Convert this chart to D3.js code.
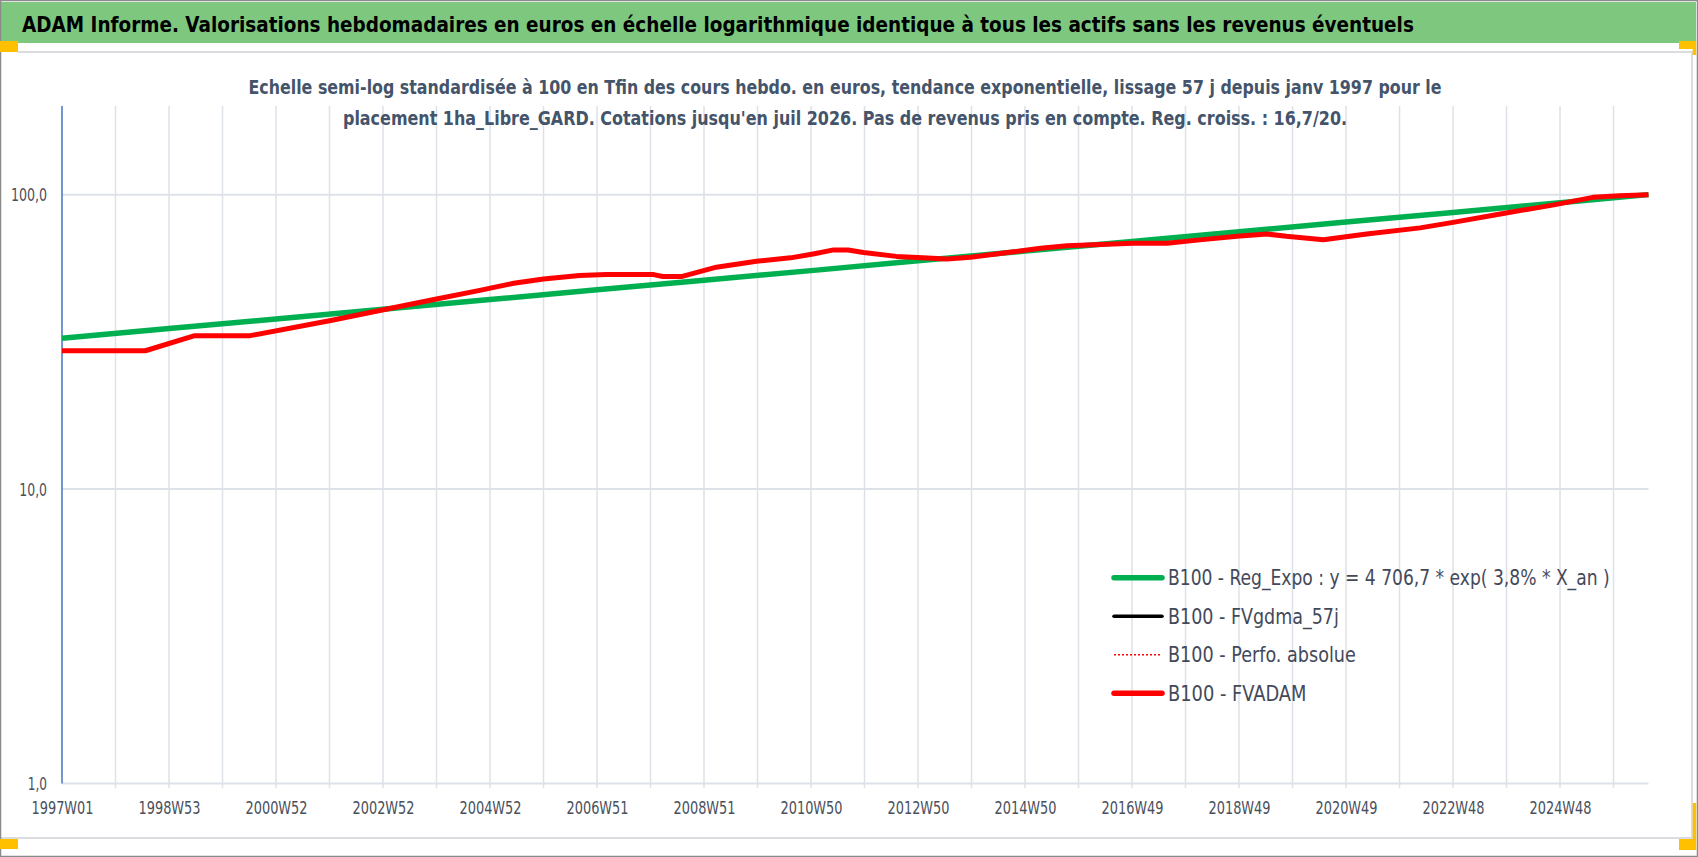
<!DOCTYPE html>
<html>
<head>
<meta charset="utf-8">
<script src="https://cdn.jsdelivr.net/npm/d3@7"></script>
<style>
  html,body{margin:0;padding:0;background:#fff;}
  svg{display:block;}
</style>
</head>
<body>
<svg width="1698" height="857"></svg>
<script>
// données (index de semaine depuis 1997W01)
var weekLabels = ["1997W01","1998W53","2000W52","2002W52","2004W52","2006W51","2008W51","2010W50","2012W50","2014W50","2016W49","2018W49","2020W49","2022W48","2024W48"];
var labelWeeks = [0,104,208,312,416,520,624,728,832,936,1040,1144,1248,1352,1456];
var lastWeek = 1542;
var yTicks = [1,10,100];

// B100 - Reg_Expo
var regWeeks = [0,104,208,312,416,520,624,728,832,936,1040,1144,1248,1352,1456,1542];
var regValues = [32.5,35.1,37.8,40.8,44.0,47.5,51.2,55.2,59.6,64.3,69.3,74.8,80.7,87.0,93.9,100];

// B100 - FVADAM
var adamWeeks = [0,81,129,183,260,316,364,406,439,468,503,529,575,584,602,636,675,708,730,750,764,779,811,860,883,921,951,977,1041,1074,1106,1142,1171,1190,1226,1268,1320,1352,1398,1450,1488,1514,1542];
var adamValues = [29.5,29.5,33.2,33.2,37.3,40.9,44.2,47.3,50.0,51.7,53.1,53.5,53.5,52.7,52.7,56.7,59.4,61.0,62.9,64.9,64.9,63.6,61.7,60.5,61.3,63.7,65.7,67.1,68.4,68.4,70.2,72.2,73.5,72.2,70.3,73.5,77.1,80.5,86.0,92.3,97.9,99.2,100];

var legendNames = ["B100 - Reg_Expo : y = 4 706,7 * exp( 3,8% *  X_an )","B100 - FVgdma_57j","B100 - Perfo. absolue","B100 - FVADAM"];

var FONT = "'Liberation Sans Narrow','Arial Narrow','DejaVu Sans Condensed','Noto Sans',sans-serif";

// resserre un texte horizontalement pour qu'il fasse la largeur voulue (police type Calibri absente)
function squeeze(sel, target, tx, ty){
    sel.each(function(d,i){
        var n = this.getComputedTextLength();
        var w = typeof target==="function" ? target(d,i) : target;
        var s = n>0 ? w/n : 1;
        d3.select(this).attr("x",0).attr("y",0)
            .attr("transform","translate("+tx+","+ty+") scale("+s+",1)");
    });
}

var svg = d3.select("svg");
var W = +svg.attr("width"), H = +svg.attr("height");
var marge = {top:106,bottom:857-783.5,left:62,right:1698-1648.5};

// fond + cadre
svg.append("rect").attr("width",W).attr("height",H).attr("fill","#fff");
svg.append("rect").attr("x",1).attr("y",2).attr("width",1695).attr("height",41).attr("fill","#7DC87E");
svg.append("path")//cadre intérieur gris clair
    .attr("d","M18,52H1692V838H1")
    .attr("fill","none").attr("stroke","#DADCE0").attr("stroke-width",2);
svg.append("rect").attr("x",0.5).attr("y",0.5).attr("width",W-1).attr("height",H-1)
    .attr("fill","none").attr("stroke","#8A8A8A").attr("stroke-width",1.5);

// poignées orange aux coins
var orange = "#FFC000";
[[0,41,18,11],[1679,41,17,8],[1692.7,41,3.5,14],[0,839,18,10],[1692.7,803,3.5,47],[1679,839,17,11]].forEach(function(r){
    svg.append("rect").attr("x",r[0]).attr("y",r[1]).attr("width",r[2]).attr("height",r[3]).attr("fill",orange);
});

// titre
svg.append("text")
    .style("font-family",FONT).style("font-weight","bold").style("font-size","22px")
    .attr("fill","#000")
    .text("ADAM Informe. Valorisations hebdomadaires en euros en échelle logarithmique identique à tous les actifs sans les revenus éventuels")
    .call(squeeze,1392,22,31.7);

var subLines = [
    {t:"Echelle semi-log standardisée à 100 en Tfin des cours hebdo. en euros, tendance exponentielle, lissage 57 j depuis janv 1997 pour le", y:94.3, w:1194},
    {t:"placement 1ha_Libre_GARD. Cotations jusqu'en juil 2026. Pas de revenus pris en compte. Reg. croiss. : 16,7/20.", y:125, w:1005}
];

var width = W-marge.left-marge.right;
var height = H-marge.top-marge.bottom;
var g = svg.append("g").attr("transform","translate("+marge.left+","+marge.top+")");

var xScale = d3.scaleLinear().domain([0,lastWeek]).range([0,width]);
var yScale = d3.scaleLog().domain([1,200]).range([height,0]);

// grille verticale toutes les 52 semaines
var gridWeeks = d3.range(52,lastWeek,52);
g.append("g")
    .selectAll("line").data(gridWeeks).enter().append("line")
    .attr("x1",d=>xScale(d)).attr("x2",d=>xScale(d))
    .attr("y1",0).attr("y2",height+4.5)
    .attr("stroke","#DDE1E8").attr("stroke-width",1.5);
// grille horizontale
g.append("g")
    .selectAll("line").data(yTicks).enter().append("line")
    .attr("x1",0).attr("x2",width)
    .attr("y1",d=>yScale(d)).attr("y2",d=>yScale(d))
    .attr("stroke","#DDE1E8").attr("stroke-width",2);

// sous-titre (par-dessus la grille)
svg.selectAll(".sub").data(subLines).enter().append("text")
    .attr("class","sub")
    .attr("text-anchor","middle")
    .style("font-family",FONT).style("font-weight","bold").style("font-size","19.5px")
    .attr("fill","#44546A")
    .text(d=>d.t)
    .each(function(d){ d3.select(this).call(squeeze,d.w,845,d.y); });

// axe x
var xAxis = d3.axisBottom(xScale)
    .tickValues(labelWeeks)
    .tickFormat((d,i)=>weekLabels[i])
    .tickSize(0);
var xt = g.append("g")
    .attr("transform","translate(0,"+height+")")
    .call(xAxis)
    .call(a=>a.select(".domain").remove());
xt.selectAll(".tick text")
    .attr("dy","0.71em")
    .style("font-family",FONT).style("font-size","18px")
    .attr("fill","#4A4F5C")
    .call(squeeze,62,0,17.5);

// axe y
var yLabel = d=>d3.format(".1f")(d).replace(".",",");
var yAxis = d3.axisLeft(yScale)
    .tickValues(yTicks)
    .tickFormat(yLabel)
    .tickSize(0);
var yt = g.append("g")
    .call(yAxis)
    .call(a=>a.select(".domain").remove());
yt.selectAll(".tick text")
    .attr("dy","0.34em")
    .style("font-family",FONT).style("font-size","18px")
    .attr("fill","#4A4F5C")
    .call(squeeze,d=>{var s=yLabel(d);return (s.length-1)*8.4+2.5;},-15,0);
g.append("line")//ligne bleue de l'axe y
    .attr("x1",0).attr("x2",0).attr("y1",0).attr("y2",height)
    .attr("stroke","#4472C4").attr("stroke-width",1.5);

// courbes
var line = d3.line().x(d=>xScale(d[0])).y(d=>yScale(d[1]));
g.append("path")
    .datum(d3.zip(regWeeks,regValues))
    .attr("d",line)
    .attr("fill","none").attr("stroke","#00B050").attr("stroke-width",5.5);
g.append("path")
    .datum(d3.zip(adamWeeks,adamValues))
    .attr("d",line)
    .attr("fill","none").attr("stroke","#FF0000").attr("stroke-width",5)
    .attr("stroke-linejoin","round");

// légende
var legStyles = [
    {c:"#00B050",w:5.5,dash:null,len:442},
    {c:"#000000",w:3.5,dash:null,len:171},
    {c:"#FF0000",w:1.5,dash:"2,2",len:188},
    {c:"#FF0000",w:5.5,dash:null,len:138.5}
];
var leg = svg.append("g").attr("transform","translate(1114,577.7)");
var items = leg.selectAll("g").data(legendNames).enter().append("g")
    .attr("transform",(d,i)=>"translate(0,"+(i*38.5)+")");
items.append("line")
    .attr("x1",0).attr("x2",48).attr("y1",0).attr("y2",0)
    .attr("stroke",(d,i)=>legStyles[i].c)
    .attr("stroke-width",(d,i)=>legStyles[i].w)
    .attr("stroke-dasharray",(d,i)=>legStyles[i].dash)
    .attr("stroke-linecap",(d,i)=>legStyles[i].dash?"butt":"round");
items.append("text")
    .attr("dy","0.36em")
    .style("font-family",FONT).style("font-size","21.5px")
    .attr("fill","#44495A")
    .text(d=>d)
    .each(function(d,i){ d3.select(this).call(squeeze,legStyles[i].len,54,0); });
</script>
</body>
</html>
